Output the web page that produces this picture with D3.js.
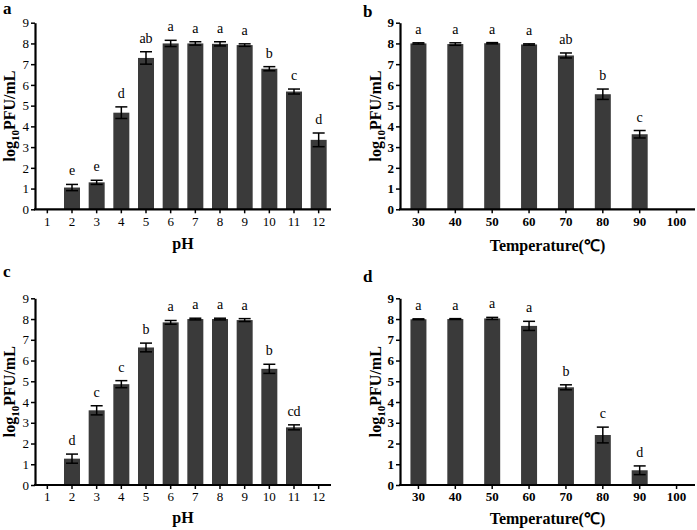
<!DOCTYPE html>
<html>
<head>
<meta charset="utf-8">
<script src="https://cdn.jsdelivr.net/npm/d3@7"></script>
<style>
  html, body { margin: 0; padding: 0; background: #fff; }
  svg { display: block; }
  text { font-family: "Liberation Serif", "Times New Roman", serif; fill: #000; }
</style>
</head>
<body>
<svg id="chart" width="697" height="530"></svg>
<script>
// ---- data ----
const phCategories = ["1","2","3","4","5","6","7","8","9","10","11","12"];
const tempCategories = ["30","40","50","60","70","80","90","100"];

const phA        = [0, 1.05, 1.30, 4.66, 7.30, 8.00, 8.00, 7.98, 7.92, 6.78, 5.68, 3.35];
const phAErr     = [0, 0.15, 0.10, 0.28, 0.30, 0.15, 0.08, 0.10, 0.06, 0.10, 0.12, 0.33];
const phALetters = ["", "e", "e", "d", "ab", "a", "a", "a", "a", "b", "c", "d"];

const tempB        = [8.00, 7.97, 8.01, 7.95, 7.42, 5.55, 3.62, 0];
const tempBErr     = [0.03, 0.06, 0.03, 0.03, 0.12, 0.25, 0.18, 0];
const tempBLetters = ["a", "a", "a", "a", "ab", "b", "c", ""];

const phC        = [0, 1.27, 3.60, 4.86, 6.63, 7.84, 8.00, 8.00, 7.95, 5.60, 2.78, 0];
const phCErr     = [0, 0.22, 0.22, 0.17, 0.21, 0.09, 0.04, 0.04, 0.07, 0.22, 0.12, 0];
const phCLetters = ["", "d", "c", "c", "b", "a", "a", "a", "a", "b", "cd", ""];

const tempD        = [7.99, 8.00, 8.03, 7.67, 4.71, 2.41, 0.71, 0];
const tempDErr     = [0.02, 0.02, 0.05, 0.22, 0.12, 0.38, 0.21, 0];
const tempDLetters = ["a", "a", "a", "a", "b", "c", "d", ""];

const yTicks = [0,1,2,3,4,5,6,7,8,9];

// ---- drawing ----
const svg = d3.select("#chart");

function panel(opts) {
  const g = svg.append("g");
  const x = d3.scaleBand().domain(opts.cats).range([opts.x0, opts.x1]).padding(0);
  const y = d3.scaleLinear().domain([0, 9]).range([opts.yBottom, opts.yTop]);
  const barW = 16;
  const data = opts.cats.map((c, i) => ({c, v: opts.vals[i], e: opts.errs[i], l: opts.letters[i]}));
  const withBar = data.filter(d => d.v > 0);
  const cx = d => x(d.c) + x.bandwidth() / 2;

  // bars
  g.selectAll("rect.bar").data(withBar).enter().append("rect")
    .attr("x", d => cx(d) - barW / 2)
    .attr("width", barW)
    .attr("y", d => y(d.v))
    .attr("height", d => y(0) - y(d.v))
    .attr("fill", "#3a3a3a");

  // error bars
  const cap = 6;
  const eb = g.selectAll("g.err").data(withBar).enter().append("g")
    .attr("stroke", "#000").attr("stroke-width", 1.5);
  eb.append("line")
    .attr("x1", cx).attr("x2", cx)
    .attr("y1", d => y(d.v - d.e)).attr("y2", d => y(d.v + d.e));
  eb.append("line")
    .attr("x1", d => cx(d) - cap).attr("x2", d => cx(d) + cap)
    .attr("y1", d => y(d.v + d.e)).attr("y2", d => y(d.v + d.e));
  eb.append("line")
    .attr("x1", d => cx(d) - cap).attr("x2", d => cx(d) + cap)
    .attr("y1", d => y(d.v - d.e)).attr("y2", d => y(d.v - d.e));

  // significance letters
  g.selectAll("text.sig").data(withBar).enter().append("text")
    .attr("x", cx)
    .attr("y", d => y(d.v + d.e) - 9)
    .attr("text-anchor", "middle")
    .style("font-size", "14px")
    .style("fill", "#000")
    .text(d => d.l);

  const tickWeight = opts.boldTicks ? "bold" : "normal";

  // x axis
  const xa = g.append("g").attr("transform", `translate(0,${opts.yBottom})`)
    .call(d3.axisBottom(x).tickSizeOuter(0).tickSizeInner(4).tickPadding(3));
  xa.select(".domain").attr("stroke-width", 2.2).attr("d", `M${opts.x0 - 1},0H${opts.x1}`);
  xa.selectAll(".tick line").attr("stroke-width", 1.5);
  xa.selectAll(".tick text").style("font-size", "13px").style("font-weight", tickWeight)
    .style("font-family", '"Liberation Serif", serif');

  // y axis
  const ya = g.append("g").attr("transform", `translate(${opts.x0},0)`)
    .call(d3.axisLeft(y).tickValues(yTicks).tickFormat(d3.format("d")).tickSizeOuter(0).tickSizeInner(4).tickPadding(2));
  ya.select(".domain").attr("stroke-width", 2.2);
  ya.selectAll(".tick line").attr("stroke-width", 1.5);
  ya.selectAll(".tick text").style("font-size", "13px").style("font-weight", tickWeight)
    .style("font-family", '"Liberation Serif", serif');

  // x title
  g.append("text")
    .attr("x", (opts.x0 + opts.x1) / 2)
    .attr("y", opts.yBottom + opts.xTitleDy)
    .attr("text-anchor", "middle")
    .style("font-size", "16px").style("font-weight", "bold")
    .text(opts.xTitle);

  // y title
  const yt = g.append("text")
    .attr("transform", `translate(${opts.yTitleX},${(opts.yTop + opts.yBottom) / 2}) rotate(-90)`)
    .attr("text-anchor", "middle")
    .style("font-size", "16px").style("font-weight", "bold");
  yt.append("tspan").text("log");
  yt.append("tspan").attr("dy", 4).style("font-size", "11px").text("10");
  yt.append("tspan").attr("dy", -4).text("PFU/mL");

  // panel letter
  svg.append("text")
    .attr("x", opts.letterX).attr("y", opts.letterY)
    .style("font-size", "17px").style("font-weight", "bold")
    .text(opts.letter);
}

panel({cats: phCategories, vals: phA, errs: phAErr, letters: phALetters,
  x0: 35, x1: 331, yTop: 22.7, yBottom: 209.3, boldTicks: false,
  xTitle: "pH", xTitleDy: 40, yTitleX: 15, letter: "a", letterX: 3, letterY: 14});

panel({cats: tempCategories, vals: tempB, errs: tempBErr, letters: tempBLetters,
  x0: 400, x1: 695, yTop: 22.7, yBottom: 209.3, boldTicks: true,
  xTitle: "Temperature(\u2103)", xTitleDy: 42, yTitleX: 381, letter: "b", letterX: 363, letterY: 17});

panel({cats: phCategories, vals: phC, errs: phCErr, letters: phCLetters,
  x0: 35, x1: 331, yTop: 298.3, yBottom: 485, boldTicks: false,
  xTitle: "pH", xTitleDy: 38, yTitleX: 15, letter: "c", letterX: 3, letterY: 277});

panel({cats: tempCategories, vals: tempD, errs: tempDErr, letters: tempDLetters,
  x0: 400, x1: 695, yTop: 298.3, yBottom: 485, boldTicks: true,
  xTitle: "Temperature(\u2103)", xTitleDy: 39, yTitleX: 381, letter: "d", letterX: 363, letterY: 282});
</script>
</body>
</html>
